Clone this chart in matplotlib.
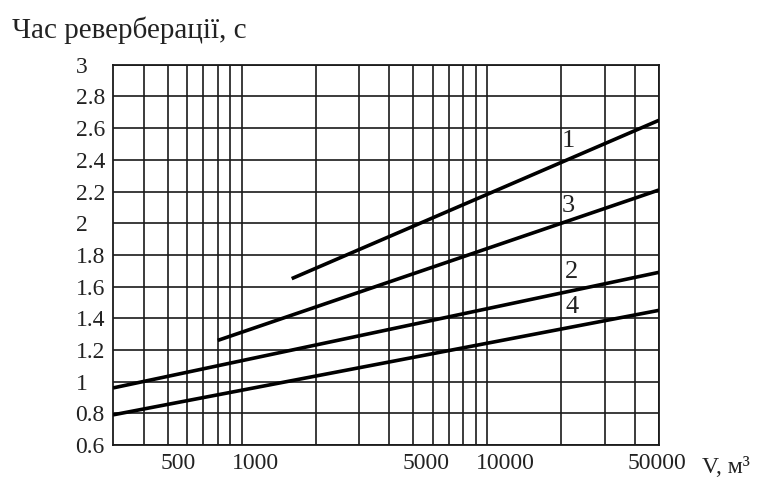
import numpy as np
import matplotlib.pyplot as plt
import matplotlib.transforms as mtransforms
from matplotlib.ticker import FixedLocator, NullFormatter

plt.rcParams['font.family'] = ['Liberation Serif', 'DejaVu Serif']

# curves (straight lines on the semilog grid): volume in m^3, time in s
v1 = [1600, 50000]
t1 = [1.65, 2.65]
v3 = [800, 50000]
t3 = [1.26, 2.21]
v2 = [300, 50000]
t2 = [0.96, 1.69]
v4 = [300, 50000]
t4 = [0.79, 1.45]

curve_labels = ['1', '3', '2', '4']
label_v = [21300, 21300, 22100, 22100]
label_t = [2.52, 2.11, 1.69, 1.47]

xtick_vals = [500, 1000, 5000, 10000, 50000]
xtick_text = ['500', '1000', '5000', '10000', '50000']
xtick_shift = [11, 14, 13, 18, -2]   # px, labels in the scan sit right of their lines
ytick_vals = [0.6, 0.8, 1, 1.2, 1.4, 1.6, 1.8, 2, 2.2, 2.4, 2.6, 2.8, 3]
ytick_text = ['0.6', '0.8', '1', '1.2', '1.4', '1.6', '1.8', '2', '2.2', '2.4', '2.6', '2.8', '3']
minor_v = [400, 500, 600, 700, 800, 900, 2000, 3000, 4000, 5000, 6000, 7000,
           8000, 9000, 20000, 30000, 40000]

fig = plt.figure(figsize=(7.69, 4.80), dpi=100)
ax = fig.add_axes([0.147, 0.073, 0.71, 0.792])

ax.set_xscale('log')
ax.set_xlim(300, 50000)
ax.set_ylim(0.6, 3)

for v, t in [(v1, t1), (v3, t3), (v2, t2), (v4, t4)]:
    ax.plot(v, t, color='black', lw=2.6, solid_capstyle='butt', zorder=3)

for s, x, y in zip(curve_labels, label_v, label_t):
    ax.text(x, y, s, fontsize=19, ha='center', va='center', color='#222222')

# grid
ax.xaxis.set_major_locator(FixedLocator(xtick_vals))
ax.xaxis.set_minor_locator(FixedLocator(minor_v + [1000, 10000]))
ax.xaxis.set_minor_formatter(NullFormatter())
ax.set_xticklabels(xtick_text)
ax.set_yticks(ytick_vals)
ax.set_yticklabels(ytick_text)
ax.grid(True, which='both', axis='x', color='#1a1a1a', lw=1.2)
ax.grid(True, which='major', axis='y', color='#1a1a1a', lw=1.2)

for sp in ax.spines.values():
    sp.set_color('#1a1a1a')
    sp.set_linewidth(1.3)

ax.tick_params(which='both', length=0)
ax.tick_params(axis='x', labelsize=17, pad=6, labelcolor='#222222')
ax.tick_params(axis='y', labelsize=17, pad=27, labelcolor='#222222')
for lab in ax.get_yticklabels():
    lab.set_horizontalalignment('left')
for lab, dx in zip(ax.get_xticklabels(), xtick_shift):
    lab.set_transform(lab.get_transform() +
                      mtransforms.ScaledTranslation(dx / 100, 0, fig.dpi_scale_trans))

fig.text(0.015, 1 - 38 / 480, 'Час реверберації, с', fontsize=21,
         va='baseline', ha='left', color='#222222')
fig.text(0.913, 1 - 473 / 480, 'V, м³', fontsize=17,
         va='baseline', ha='left', color='#222222')

plt.savefig('out.png', dpi=100)
